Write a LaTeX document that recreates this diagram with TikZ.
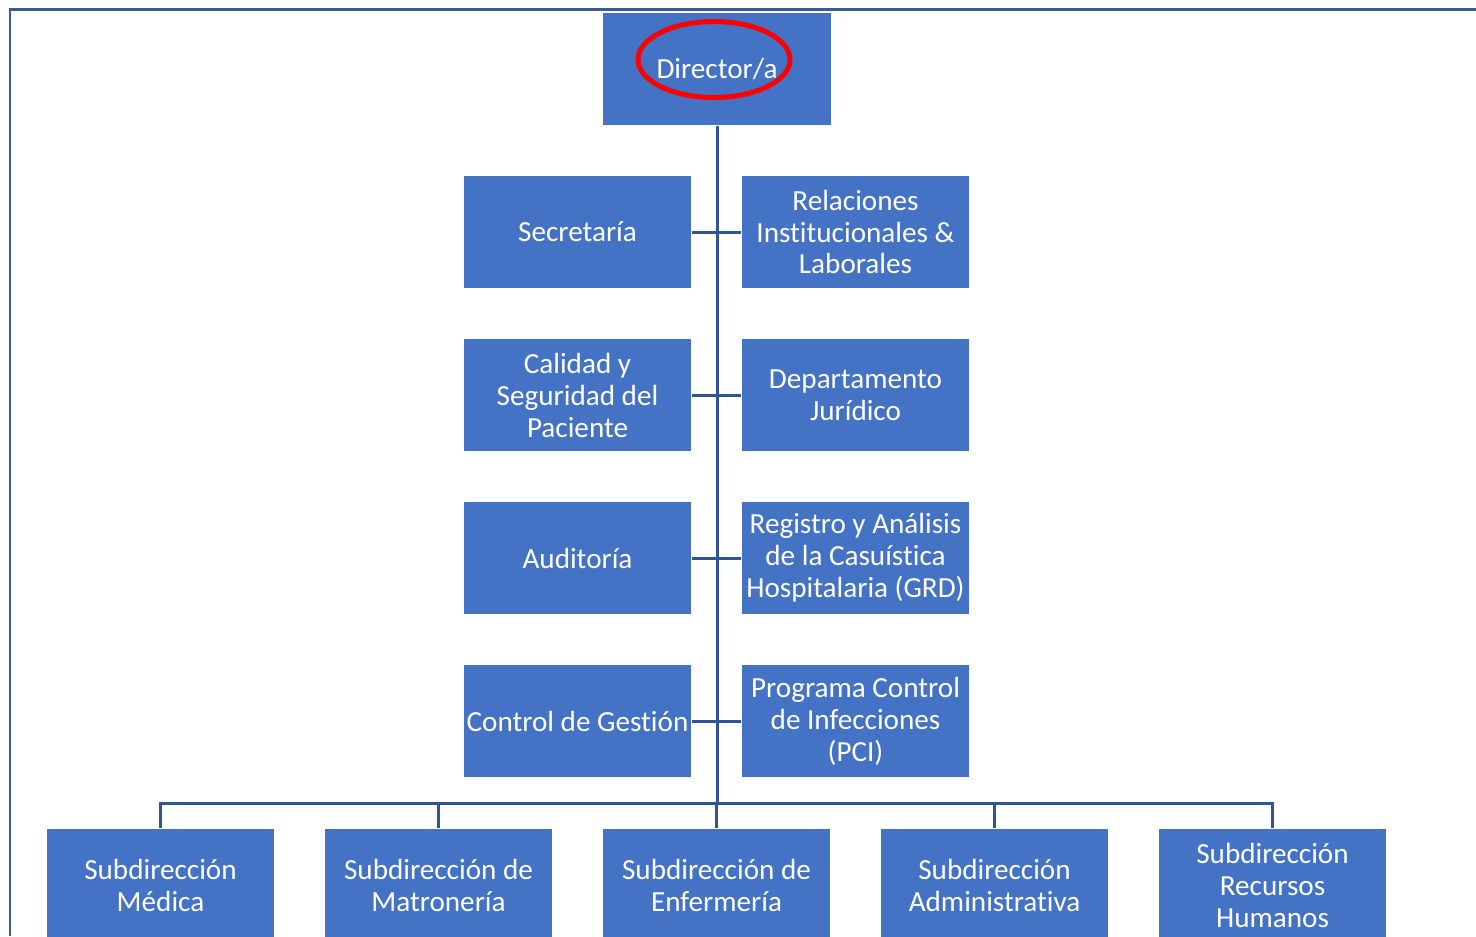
\documentclass[tikz,border=0pt]{standalone}
\usepackage{fontspec}
\setmainfont{Carlito}[Ligatures=NoCommon]
\usetikzlibrary{positioning}
\definecolor{boxblue}{RGB}{68,114,196}
\definecolor{lineblue}{RGB}{47,85,151}
\tikzset{
    unit/.style={
           rectangle,
           draw=white, line width=0.6pt,
           fill=boxblue,
           text=white,
           minimum width=4.57cm, minimum height=2.25cm,
           inner sep=1pt,
           align=center,
           font=\fontsize{16.6}{18.2}\selectfont,
           },
}
\tikzset{
    link/.style={
           draw=lineblue, line width=0.06cm,
           },
}
\tikzset{
    frame/.style={
           draw=lineblue!85!gray, line width=0.06cm,
           },
}
\tikzset{
    circled/.style={
           draw=red, line width=0.1cm,
           },
}

\begin{document}
\begin{tikzpicture}[x=0.02cm,y=-0.02cm]
\useasboundingbox (0,0) rectangle (1476,936);
\clip (0,0) rectangle (1476,936);
% page frame
\draw[frame] (1476,10) -- (10,10) -- (10,936);
% director
\node[unit](dir) at (717,69){Director/a};
% staff units
\node[unit](sec) at (577.5,232){Secretaría};
\node[unit](rel) at (855.5,232){Relaciones\\Institucionales \&\\Laborales};
\node[unit](cal) at (577.5,395){Calidad y\\Seguridad del\\Paciente};
\node[unit](jur) at (855.5,395){Departamento\\Jurídico};
\node[unit](aud) at (577.5,558){Auditoría};
\node[unit](grd) at (855.5,558){Registro y Análisis\\de la Casuística\\Hospitalaria (GRD)};
\node[unit](ges) at (577.5,721){Control de Gestión};
\node[unit](pci) at (855.5,721){Programa Control\\de Infecciones\\(PCI)};
% subdirections
\node[unit](med) at (160.5,885){Subdirección\\Médica};
\node[unit](mat) at (438.5,885){Subdirección de\\Matronería};
\node[unit](enf) at (716.5,885){Subdirección de\\Enfermería};
\node[unit](adm) at (994.5,885){Subdirección\\Administrativa};
\node[unit](rrhh) at (1272.5,885){Subdirección\\Recursos\\Humanos};
\coordinate (bus) at (717,803);
% connectors
\draw[link] (dir.south) -- (bus);
\draw[link] (sec.east) -- (rel.west);
\draw[link] (cal.east) -- (jur.west);
\draw[link] (aud.east) -- (grd.west);
\draw[link] (ges.east) -- (pci.west);
\draw[link] (med.north) -- (med.north |- bus) -- (rrhh.north |- bus) -- (rrhh.north);
\draw[link] (mat.north) -- (mat.north |- bus);
\draw[link] (enf.north) -- (enf.north |- bus);
\draw[link] (adm.north) -- (adm.north |- bus);
% mark on director
\draw[circled] (714,59.5) ellipse [x radius=76, y radius=38];
\end{tikzpicture}
\end{document}
